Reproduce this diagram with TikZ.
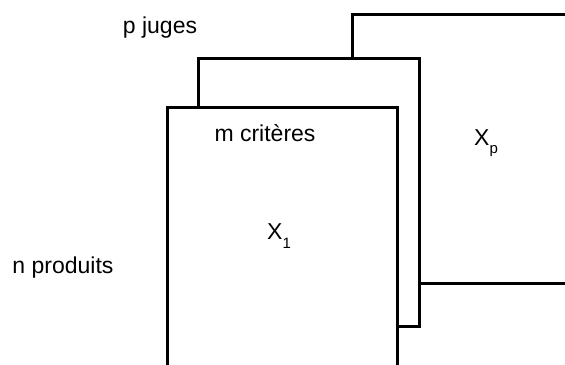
\documentclass[tikz,border=0pt]{standalone}
\usepackage{fontspec}
\setmainfont{Liberation Sans}
\newcommand\lowidx[1]{\raisebox{-0.7ex}{\fontsize{7.5}{8}\selectfont #1}}
\begin{document}
\begin{tikzpicture}[x=0.5pt,y=-0.5pt,
  sheet/.style={draw=black,fill=white,line width=1.5pt},
  lbl/.style={inner sep=0pt,font=\fontsize{11.5}{13}\selectfont}]
\useasboundingbox (0,0) rectangle (565,364);
\clip (0,0) rectangle (565,364);
% the stacked data tables, drawn from back to front
\path[sheet] (352,14) rectangle (640,283);
\path[sheet] (198,58) rectangle (419,326);
\path[sheet] (167,107) rectangle (397,420);
% labels
\node[lbl] (juges) at (160,28) {p juges};
\node[lbl] (produits) at (63,268) {n produits};
\node[lbl] (criteres) at (265,133) {m critères};
\node[lbl] (x1) at (279,236) {X\lowidx{1}};
\node[lbl] (xp) at (486,143) {X\lowidx{p}};
\end{tikzpicture}
\end{document}
